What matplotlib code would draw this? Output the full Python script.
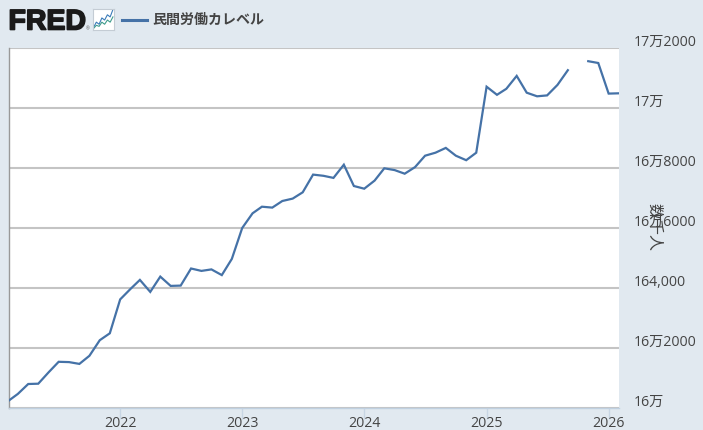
import numpy as np
import pandas as pd
import matplotlib
matplotlib.use("Agg")
import matplotlib.pyplot as plt
import matplotlib.patheffects as pe
from matplotlib.transforms import ScaledTranslation

plt.rcParams['font.family'] = ['Open Sans', 'Noto Sans CJK JP', 'DejaVu Sans']

# monthly values, Feb 2021 - Feb 2026 (Oct 2025 missing)
dates = pd.date_range("2021-02-01", periods=61, freq="MS")
values = [160240, 160470, 160800, 160810, 161190, 161540, 161530, 161470, 161740, 162260, 162490,
          163620, 163970, 164270, 163870, 164380, 164070, 164080, 164650, 164570, 164620, 164430, 164970,
          166000, 166490, 166710, 166680, 166900, 166980, 167190, 167780, 167740, 167670, 168110, 167400,
          167310, 167580, 167990, 167930, 167810, 168030, 168410, 168510, 168670, 168410, 168260, 168510,
          170710, 170440, 170640, 171070, 170510, 170390, 170420, 170770, 171260, np.nan,
          171560, 171500, 170480, 170490]

y_ticks = [160000, 162000, 164000, 166000, 168000, 170000, 172000]
y_labels = ["16万", "16万2000", "164,000", "16万6000", "16万8000", "17万", "17万2000"]
x_years = [2022, 2023, 2024, 2025, 2026]
series_name = "民間労働カレベル"
unit_label = "数千人"

# small logo icon lines
icon_blue = [0.1, 0.35, 0.25, 0.55, 0.45, 0.7, 0.6, 0.95]
icon_green = [0.05, 0.2, 0.15, 0.35, 0.25, 0.45, 0.35, 0.6]

W, H = 703, 430
bg = "#e1e9f0"
line_color = "#4572a7"
text_color = "#444444"

fig = plt.figure(figsize=(W / 100, H / 100), dpi=100, facecolor=bg)
ax = fig.add_axes([8.5 / W, 1 - 408 / H, (619 - 8.5) / W, 360 / H])
ax.set_facecolor("white")

ax.plot(dates, values, color=line_color, lw=1.6, solid_joinstyle="miter", zorder=3)

ax.set_xlim(pd.Timestamp("2021-02-01"), pd.Timestamp("2026-02-01"))
ax.set_ylim(160000, 172000)

ax.set_xticks([pd.Timestamp(f"{y}-01-01") for y in x_years])
ax.set_xticklabels([str(y) for y in x_years], fontsize=10.2, color=text_color)
ax.tick_params(axis="x", length=8, width=1, color="#c8d6e4", pad=-2.5)

ax.yaxis.tick_right()
ax.set_yticks(y_ticks)
ax.set_yticklabels(y_labels, fontsize=10.2, color=text_color)
ax.tick_params(axis="y", length=0, pad=10.5)
offset = ScaledTranslation(0, 7.5 / 100, fig.dpi_scale_trans)
for lab in ax.get_yticklabels():
    lab.set_transform(lab.get_transform() + offset)

ax.grid(axis="y", color="#c4c4c4", lw=1.5, zorder=1)
ax.set_axisbelow(True)
for s in ["top", "right"]:
    ax.spines[s].set_visible(False)
ax.spines["left"].set_color("#999999")
ax.spines["left"].set_linewidth(1)
ax.spines["bottom"].set_color("#c0d0e0")
ax.spines["bottom"].set_linewidth(1)

fig.text(654 / W, 1 - 227 / H, unit_label, rotation=-90, ha="center", va="center",
         fontsize=11.5, color=text_color)

# header
logo = fig.text(8.5 / W, 1 - 29.5 / H, "FRED", family="Liberation Sans", weight="bold", fontsize=20.5,
                color="#1a1a1a", ha="left", va="baseline")
logo.set_path_effects([pe.withStroke(linewidth=1.2, foreground="#1a1a1a")])
fig.text(86 / W, 1 - 30 / H, "®", family="Liberation Sans", fontsize=3.5, color="#555555")

icon = fig.add_axes([92.5 / W, 1 - 29.5 / H, 21.5 / W, 21 / H])
icon.set_xticks([])
icon.set_yticks([])
icon.set_xlim(0, 1)
icon.set_ylim(0, 1)
icon.plot(np.linspace(0.05, 0.95, 8), icon_blue, color="#3a7bb8", lw=0.8)
icon.plot(np.linspace(0.05, 0.95, 8), icon_green, color="#3f9c8c", lw=0.8)
for s in icon.spines.values():
    s.set_color("#c4ccd4")
    s.set_linewidth(0.8)

fig.add_artist(plt.Line2D([122 / W, 147 / W], [1 - 20 / H, 1 - 20 / H], color=line_color, lw=2.2))
fig.text(152 / W, 1 - 20 / H, series_name, family=["Noto Sans CJK JP", "DejaVu Sans"], weight="bold",
         fontsize=10.1, color=text_color, ha="left", va="center")

fig.savefig("out.png", dpi=100, facecolor=bg)
